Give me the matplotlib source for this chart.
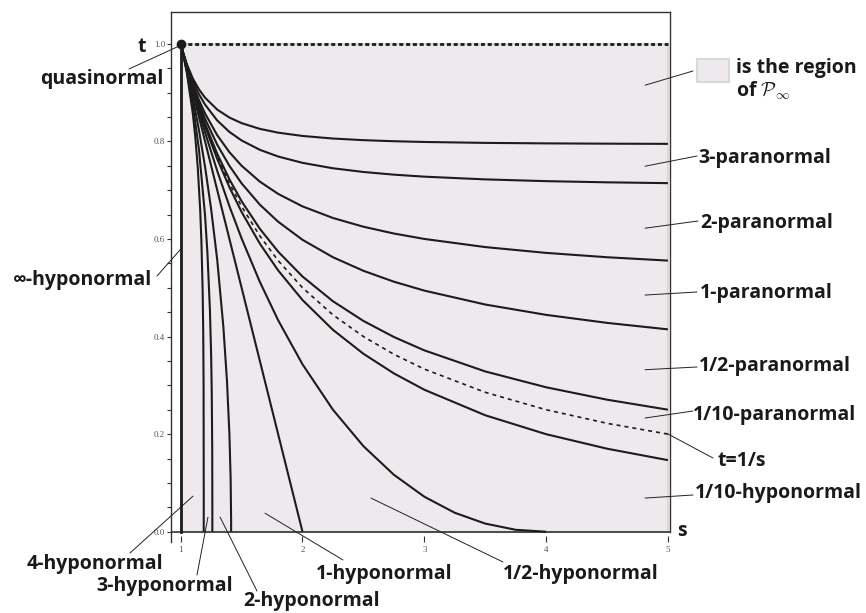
import matplotlib
matplotlib.use("Agg")
import matplotlib.pyplot as plt
from matplotlib.patches import Rectangle

# ---------------- data ----------------
s_para = [1, 1.02, 1.05, 1.1, 1.15, 1.2, 1.3, 1.4, 1.5, 1.65, 1.8, 2, 2.25, 2.5, 2.75, 3, 3.5, 4, 4.5, 5]
t_para_3 = [1, .9815, .9583, .9286, .9065, .8894, .8650, .8487, .8373, .8255, .8178, .8110, .8057, .8024, .8002, .7987, .7968, .7958, .7952, .7948]
t_para_2 = [1, .9811, .9565, .9231, .8966, .8752, .8427, .8193, .8018, .7826, .7689, .7559, .7448, .7372, .7317, .7276, .7220, .7184, .7160, .7143]
t_para_1 = [1, .9808, .9545, .9167, .8846, .8571, .8125, .7778, .7500, .7174, .6923, .6667, .6429, .6250, .6111, .6000, .5833, .5714, .5625, .5556]
t_para_half = [1, .9806, .9535, .9130, .8775, .8461, .7930, .7498, .7139, .6702, .6353, .5982, .5625, .5347, .5124, .4941, .4656, .4444, .4280, .4147]
t_para_tenth = [1, .9804, .9526, .9099, .8712, .8361, .7744, .7222, .6773, .6207, .5740, .5230, .4723, .4320, .3991, .3717, .3285, .2960, .2706, .2501]
t_inverse = [1, .9804, .9524, .9091, .8696, .8333, .7692, .7143, .6667, .6061, .5556, .5000, .4444, .4000, .3636, .3333, .2857, .2500, .2222, .2000]
t_hypo_tenth = [1, .9804, .9522, .9082, .8678, .8305, .7638, .7060, .6553, .5903, .5355, .4748, .4137, .3647, .3245, .2910, .2387, .1999, .1702, .1467]

s_hypo_half = [1, 1.02, 1.05, 1.1, 1.15, 1.2, 1.3, 1.4, 1.5, 1.65, 1.8, 2, 2.25, 2.5, 2.75, 3, 3.25, 3.5, 3.75, 4]
t_hypo_half = [1, .9802, .9512, .9048, .8605, .8182, .7393, .6671, .6010, .5119, .4334, .3431, .2500, .1754, .1168, .0718, .0389, .0167, .0040, 0]

s_hypo_1 = [1, 1.5, 2]
t_hypo_1 = [1, .5, 0]

s_hypo_2 = [1, 1.02, 1.05, 1.1, 1.15, 1.2, 1.25, 1.3, 1.35, 1.38, 1.4, 1.41, 1.414, 1.4142]
t_hypo_2 = [1, .980, .947, .889, .823, .748, .661, .557, .421, .309, .200, .109, .025, 0]

s_hypo_3 = [1, 1.02, 1.05, 1.1, 1.15, 1.2, 1.22, 1.24, 1.25, 1.255, 1.259, 1.2599, 1.25992]
t_hypo_3 = [1, .979, .944, .875, .783, .648, .569, .454, .361, .286, .164, .046, 0]

s_hypo_4 = [1, 1.02, 1.05, 1.1, 1.12, 1.14, 1.16, 1.17, 1.18, 1.185, 1.188, 1.1892, 1.18921]
t_hypo_4 = [1, .979, .941, .856, .808, .747, .660, .596, .497, .410, .300, .083, 0]

s_region = [1, 5]
t_region = [0, 1]

x_ticks = [1, 2, 3, 4, 5]
x_tick_labels = ["1", "2", "3", "4", "5"]
y_ticks = [0.0, 0.2, 0.4, 0.6, 0.8, 1.0]
y_tick_labels = ["0.0", "0.2", "0.4", "0.6", "0.8", "1.0"]
y_minor = [i * 0.05 for i in range(21)]

# ---------------- figure ----------------
plt.rcParams["mathtext.fontset"] = "cm"
W, H = 866, 613
fig = plt.figure(figsize=(8.66, 6.13), dpi=100)
ax = fig.add_axes([170.7 / W, 1 - 541.5 / H, (670 - 170.7) / W, (541.5 - 12) / H])
ax.set_xlim(0.918, 5.017)
ax.set_ylim(-0.02, 1.065)

def fp(x, y):
    return (x / W, 1 - y / H)

REGION = "#eee9ed"
INK = "#1c1c1c"

ax.add_patch(Rectangle((s_region[0], t_region[0]), s_region[1] - s_region[0],
                       t_region[1] - t_region[0], facecolor=REGION,
                       edgecolor="#d9d9d9", lw=1.6, zorder=0))

curve_kw = dict(color=INK, lw=1.5, solid_capstyle="butt", solid_joinstyle="round", zorder=3)
for t in [t_para_3, t_para_2, t_para_1, t_para_half, t_para_tenth, t_hypo_tenth]:
    ax.plot(s_para, t, **curve_kw)
ax.plot(s_para, t_inverse, color=INK, lw=1.2, linestyle=(0, (2.4, 2.4)), zorder=3)
ax.plot(s_hypo_half, t_hypo_half, **curve_kw)
ax.plot(s_hypo_1, t_hypo_1, **curve_kw)
ax.plot(s_hypo_2, t_hypo_2, **curve_kw)
ax.plot(s_hypo_3, t_hypo_3, **curve_kw)
ax.plot(s_hypo_4, t_hypo_4, **curve_kw)
# infinity-hyponormal: s = 1
ax.plot([s_region[0], s_region[0]], [t_region[0], t_region[1]], color=INK, lw=2.0, zorder=4)
# P_infinity boundary t = 1
ax.plot(s_region, [t_region[1], t_region[1]], color=INK, lw=2.0,
        linestyle=(0, (1.45, 1.0)), zorder=4)
# quasinormal point
ax.plot([1], [1], "o", color=INK, ms=6, zorder=5)
# s-axis line at t=0
ax.axhline(0, color="#333333", lw=1.2, zorder=2)

# spines / ticks
for side in ["left", "top", "right"]:
    ax.spines[side].set_color("#333333")
    ax.spines[side].set_linewidth(1.0)
ax.spines["bottom"].set_visible(False)
ax.spines["right"].set_bounds(0, 1.065)

ax.set_xticks(x_ticks, labels=x_tick_labels)
ax.set_yticks(y_ticks, labels=y_tick_labels)
ax.set_yticks(y_minor, minor=True)
ax.tick_params(axis="y", which="both", direction="out", length=3, width=0.8,
               color="#333333", pad=1, labelsize=6.5, labelcolor="#555555")
ax.tick_params(axis="x", which="both", direction="in", length=4, width=0.8,
               color="#333333", pad=3, labelsize=6.5, labelcolor="#555555")
for lbl in ax.get_xticklabels() + ax.get_yticklabels():
    lbl.set_fontfamily("Liberation Serif")

# ---------------- labels ----------------
FONT = ["Open Sans", "DejaVu Sans"]
FS = 14

def label(txt, x, y, ha="left"):
    fig.text(*fp(x, y), txt, ha=ha, va="baseline", fontsize=FS,
             fontweight="bold", family=FONT, color="#1a1a1a")

def leader(x0, y0, s, t):
    ax.annotate("", xy=(s, t), xycoords="data", xytext=fp(x0, y0),
                textcoords="figure fraction", annotation_clip=False,
                arrowprops=dict(arrowstyle="-", lw=0.7, color="#222222",
                                shrinkA=0, shrinkB=0))

label("t", 142, 52, ha="center")
label("s", 682, 536, ha="center")

label("quasinormal", 102, 84, ha="center"); leader(129, 69, 0.985, 0.995)
label("\u221e-hyponormal", 83, 285, ha="center"); leader(157, 276, 1.0, 0.579)
label("4-hyponormal", 94.5, 569, ha="center"); leader(130, 553, 1.101, 0.073)
label("3-hyponormal", 164.5, 591, ha="center"); leader(197, 575, 1.224, 0.030)
label("2-hyponormal", 311.5, 606, ha="center"); leader(257, 591, 1.323, 0.030)
label("1-hyponormal", 384.5, 579, ha="center"); leader(343, 560, 1.692, 0.038)
label("1/2-hyponormal", 503, 579); leader(503, 562, 2.562, 0.069)

# legend-like swatch
sw = Rectangle(fp(697, 82), 32 / W, 23 / H, transform=fig.transFigure,
               facecolor=REGION, edgecolor="#d9d9d9", lw=1.5)
fig.patches.append(sw)
label("is the region", 736, 73)
label(r"of $\mathcal{P}_{\infty}$", 736, 97)
leader(693, 71, 4.812, 0.915)

label("3-paranormal", 698, 163); leader(697, 156, 4.812, 0.749)
label("2-paranormal", 700, 228); leader(698, 221, 4.812, 0.622)
label("1-paranormal", 700, 298); leader(697, 292, 4.812, 0.485)
label("1/2-paranormal", 699, 371); leader(697, 367, 4.812, 0.332)
label("1/10-paranormal", 693, 420); leader(693, 411, 4.812, 0.233)
label("t=1/s", 717, 466); leader(713, 458, 4.988, 0.202)
label("1/10-hyponormal", 695, 498); leader(693, 495, 4.812, 0.069)

fig.savefig("out.png", dpi=100)
